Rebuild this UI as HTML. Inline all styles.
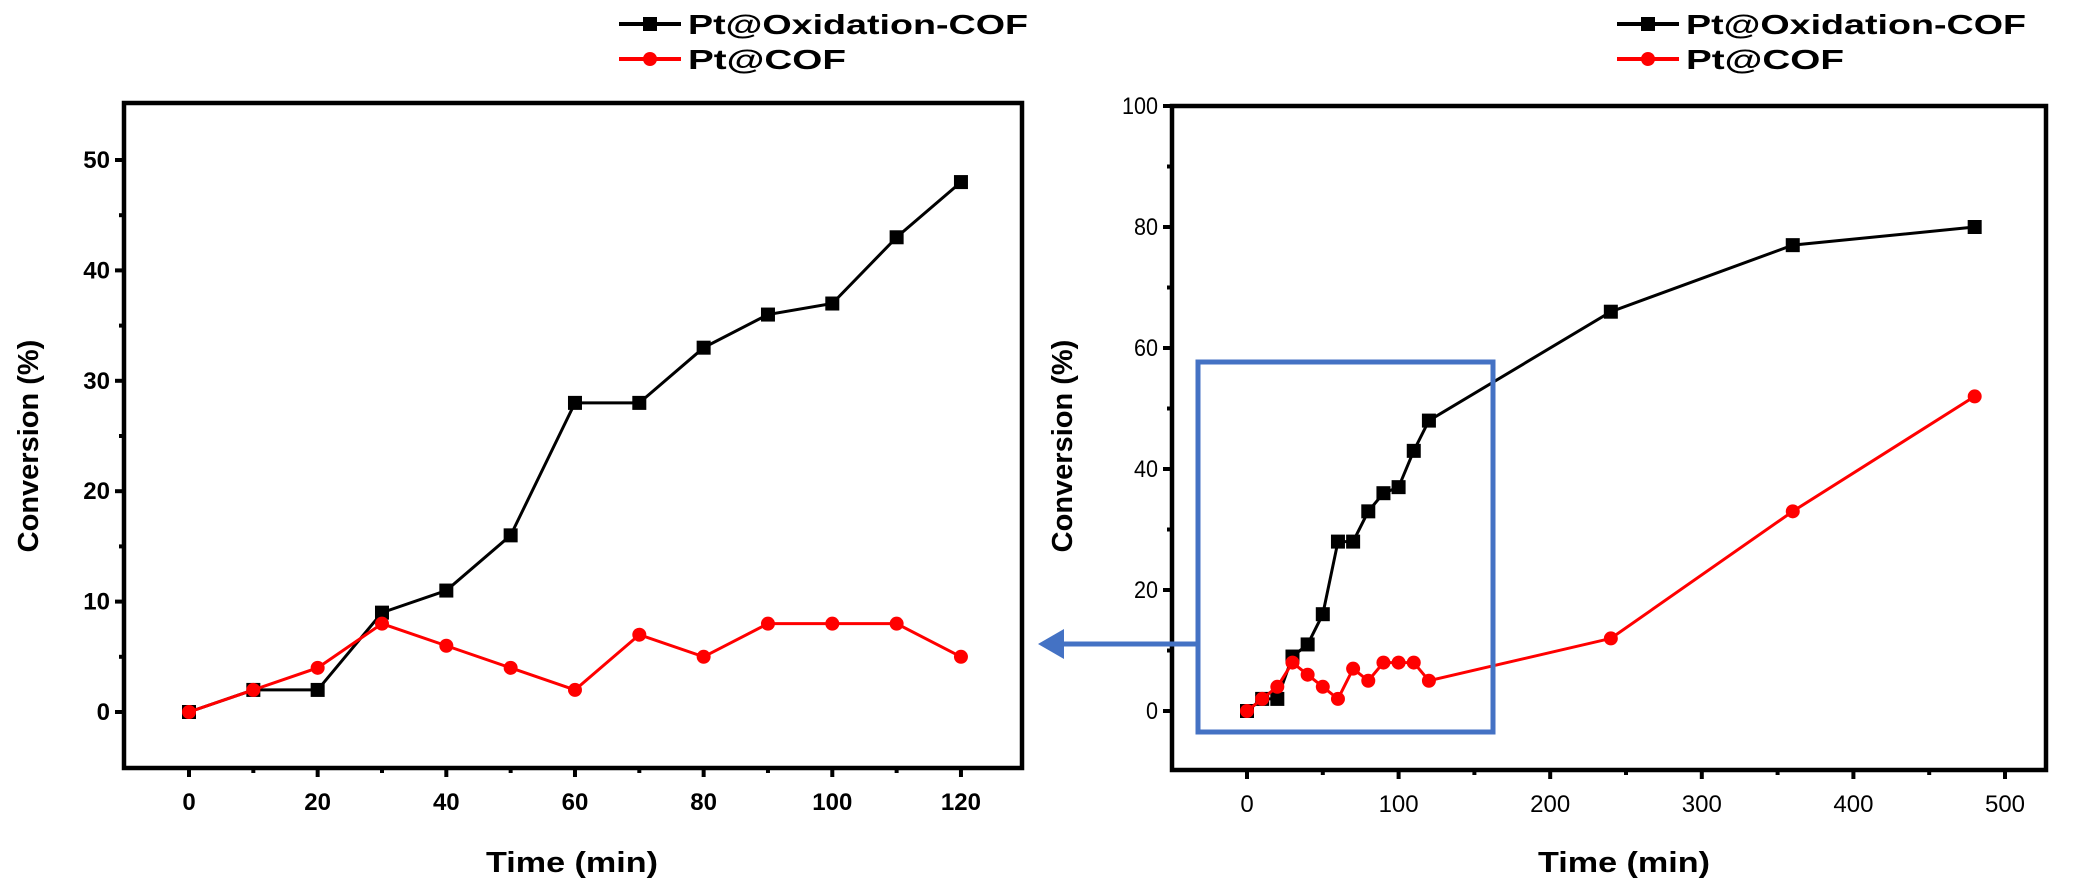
<!DOCTYPE html>
<html><head><meta charset="utf-8"><style>
html,body{margin:0;padding:0;background:#fff;}
svg{display:block;font-family:"Liberation Sans",Arial,sans-serif;}
</style></head><body>
<svg id="s" width="2087" height="896" xmlns="http://www.w3.org/2000/svg"></svg>
<script>
const s=document.getElementById('s');let h='';
const bk=[[0,0],[10,2],[20,2],[30,9],[40,11],[50,16],[60,28],[70,28],[80,33],[90,36],[100,37],[110,43],[120,48]];
const rd=[[0,0],[10,2],[20,4],[30,8],[40,6],[50,4],[60,2],[70,7],[80,5],[90,8],[100,8],[110,8],[120,5]];
function plot(o){
 const X=v=>o.x0+v*o.sx, Y=v=>o.y0-v*o.sy;
 for(let v=o.ymin;v<=o.ymax;v+=o.ym){const y=Y(v);const maj=Math.abs(v%o.yM)<1e-9;
  h+=`<line x1="${o.L}" x2="${o.L-(maj?9:5)}" y1="${y}" y2="${y}" stroke="#000" stroke-width="4"/>`;
  if(maj)h+=`<text x="${o.L-14}" y="${y+8}" text-anchor="end" font-size="24" font-weight="${o.bold?'bold':'normal'}" ${o.bold?'':'textLength="'+(String(v).length*12)+'" lengthAdjust="spacingAndGlyphs"'}>${v}</text>`;}
 for(let v=o.xmin;v<=o.xmax;v+=o.xm){const x=X(v);const maj=Math.abs(v%o.xM)<1e-9;
  h+=`<line x1="${x}" x2="${x}" y1="${o.B}" y2="${o.B+(maj?9:5)}" stroke="#000" stroke-width="4"/>`;
  if(maj)h+=`<text x="${x}" y="${o.B+42}" text-anchor="middle" font-size="24" font-weight="${o.bold?'bold':'normal'}">${v}</text>`;}
 h+=`<rect x="${o.L}" y="${o.T}" width="${o.R-o.L}" height="${o.B-o.T}" fill="none" stroke="#000" stroke-width="4.5"/>`;
 const ser=(d,c,sq)=>{h+=`<polyline points="${d.map(p=>X(p[0])+','+Y(p[1])).join(' ')}" fill="none" stroke="${c}" stroke-width="3"/>`;
  d.forEach(p=>{h+=sq?`<rect x="${X(p[0])-7}" y="${Y(p[1])-7}" width="14" height="14" fill="${c}"/>`:`<circle cx="${X(p[0])}" cy="${Y(p[1])}" r="7" fill="${c}"/>`;});};
 ser(o.b,'#000',1);ser(o.r,'#f00',0);
 const lx=o.lx;
 h+=`<line x1="${lx}" x2="${lx+62}" y1="24" y2="24" stroke="#000" stroke-width="4"/><rect x="${lx+24}" y="17" width="14" height="14"/>`;
 h+=`<line x1="${lx}" x2="${lx+62}" y1="59" y2="59" stroke="#f00" stroke-width="4"/><circle cx="${lx+31}" cy="59" r="7" fill="#f00"/>`;
 h+=`<text x="${lx+69}" y="34" font-size="28" font-weight="bold" textLength="340" lengthAdjust="spacingAndGlyphs">Pt@Oxidation-COF</text><text x="${lx+69}" y="69" font-size="28" font-weight="bold" textLength="158" lengthAdjust="spacingAndGlyphs">Pt@COF</text>`;
 h+=`<text x="${o.tx-86}" y="872" font-size="29" font-weight="bold" textLength="172" lengthAdjust="spacingAndGlyphs">Time (min)</text>`;
 h+=`<text transform="translate(${o.yx},446) rotate(-90)" text-anchor="middle" font-size="29" font-weight="bold">Conversion (%)</text>`;
}
plot({L:124,R:1022,T:103,B:768,x0:189,sx:6.433,y0:712,sy:11.04,ymin:0,ymax:50,ym:5,yM:10,xmin:0,xmax:120,xm:10,xM:20,bold:1,b:bk,r:rd,lx:619,tx:572,yx:38});
plot({L:1172,R:2046,T:106,B:770,x0:1247,sx:1.516,y0:711,sy:6.05,ymin:0,ymax:100,ym:10,yM:20,xmin:0,xmax:500,xm:50,xM:100,bold:0,b:bk.concat([[240,66],[360,77],[480,80]]),r:rd.concat([[240,12],[360,33],[480,52]]),lx:1617,tx:1624,yx:1072});
h+=`<rect x="1198" y="362" width="295" height="370" fill="none" stroke="#4472C4" stroke-width="5"/>`;
h+=`<line x1="1198" y1="644" x2="1060" y2="644" stroke="#4472C4" stroke-width="5"/><polygon points="1038,644 1064,629 1064,659" fill="#4472C4"/>`;
s.innerHTML=h;
</script>
</body></html>
